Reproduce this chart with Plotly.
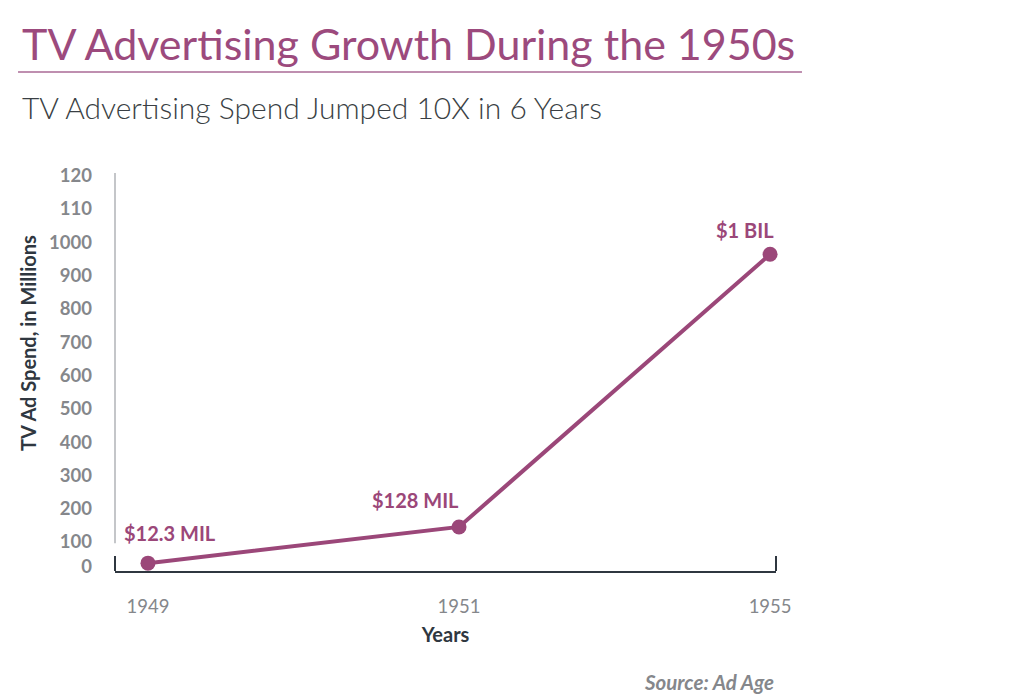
import plotly.graph_objects as go

years = ["1949", "1951", "1955"]
spend = [12.3, 128, 1000]
point_labels = ["$12.3 MIL", "$128 MIL", "$1 BIL"]
y_tick_text = ["0", "100", "200", "300", "400", "500", "600", "700", "800", "900", "1000", "110", "120"]

PURPLE = "#9b4779"
GREY = "#85878b"
DARK = "#2f3740"
FONT = "Lato"

# tick label placement (original labels are spaced slightly wider than data scale)
first_step = 80
step = 106.5
tickvals = [0] + [first_step + i * step for i in range(len(y_tick_text) - 1)]

fig = go.Figure()
fig.add_trace(go.Scatter(
    x=years, y=spend, mode="lines+markers",
    line=dict(color=PURPLE, width=4),
    marker=dict(color=PURPLE, size=15),
    hoverinfo="skip", showlegend=False, cliponaxis=False,
))

offsets = [(22, -30), (-44, -27), (-25, -24)]
for i, (yv, t, (ax, ay)) in enumerate(zip(spend, point_labels, offsets)):
    fig.add_annotation(x=i, y=yv, text=f"<b>{t}</b>", showarrow=True, arrowcolor="rgba(0,0,0,0)",
                       ax=ax, ay=ay, font=dict(family=FONT, size=20, color=PURPLE))

fig.update_layout(
    width=1024, height=699,
    margin=dict(l=107, r=256, t=165, b=136),
    paper_bgcolor="white", plot_bgcolor="white",
    xaxis=dict(type="category", range=[-0.106, 2.019], showgrid=False, zeroline=False,
               showline=True, linecolor=DARK, linewidth=2,
               tickfont=dict(family=FONT, size=18.5, color=GREY), ticks="", ticklabelstandoff=18,
               title=dict(text="<b>Years</b>", font=dict(family=FONT, size=20, color=DARK), standoff=12)),
    yaxis=dict(range=[-12.8, 1259.6], showgrid=False, zeroline=False, showline=False,
               tickvals=tickvals, ticktext=[f"<b>{t}</b>" for t in y_tick_text],
               tickfont=dict(family=FONT, size=18.5, color=GREY), ticks="", ticklabelstandoff=22),
)

shapes = [
    dict(type="line", xref="paper", yref="paper", x0=0, x1=0, y0=0.07, y1=1.0,
         line=dict(color="#c4c6c9", width=2)),
    dict(type="line", xref="paper", yref="paper", x0=0, x1=0, y0=0, y1=0.038,
         line=dict(color=DARK, width=2)),
    dict(type="line", xref="paper", yref="paper", x0=1, x1=1, y0=0, y1=0.038,
         line=dict(color=DARK, width=2)),
    dict(type="line", xref="paper", yref="paper", x0=-0.1467, x1=1.0393, y0=1.2538, y1=1.2538,
         line=dict(color="#bf8fb0", width=2)),
]
fig.update_layout(shapes=shapes)

fig.add_annotation(xref="paper", yref="paper", x=-0.1316, y=0.573, xanchor="center", yanchor="middle",
                   text="<b>TV Ad Spend, in Millions</b>", showarrow=False, textangle=-90,
                   font=dict(family=FONT, size=20, color=DARK))
fig.add_annotation(xref="paper", yref="paper", x=-0.1437, y=1.3266, xanchor="left", yanchor="middle",
                   text="TV Advertising Growth During the 1950s", showarrow=False,
                   font=dict(family=FONT, size=43, color="#9c4a7d", weight=400))
fig.add_annotation(xref="paper", yref="paper", x=-0.1437, y=1.1658, xanchor="left", yanchor="middle",
                   text="TV Advertising Spend Jumped 10X in 6 Years", showarrow=False,
                   font=dict(family=FONT, size=30, color="#3a3f44", weight=300))
fig.add_annotation(xref="paper", yref="paper", x=1.0, y=-0.2789, xanchor="right", yanchor="middle",
                   text="<b><i>Source: Ad Age</i></b>", showarrow=False,
                   font=dict(family=FONT, size=20.5, color=GREY))

fig.write_html("out.html")
